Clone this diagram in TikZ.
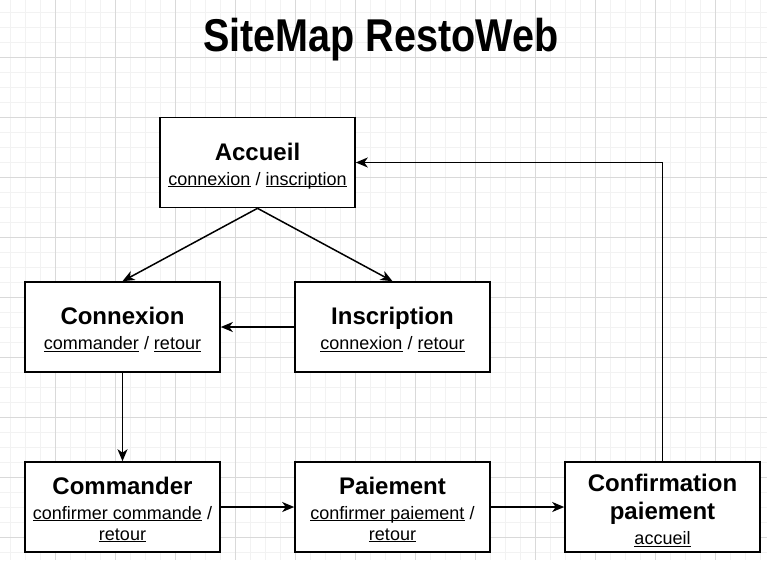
\documentclass[tikz,border=0pt]{standalone}
\usepackage{fontspec}
\setmainfont{Liberation Sans}
\usetikzlibrary{arrows.meta}
\newcommand\lnk[1]{\underline{\smash{#1}}}
\newcommand\hd[1]{{\fontsize{24}{29}\selectfont\bfseries #1}}
\newcommand\hdtop[2][22pt]{\rule{0pt}{#1}\hd{#2}}
\tikzset{
  minorgrid/.style={draw=black!5, line width=1pt},
  majorgrid/.style={draw=black!15, line width=1pt},
  page/.style={draw=black, line width=1.6pt, fill=white, minimum width=195pt, minimum height=90pt, inner sep=0pt, align=center, font=\fontsize{18}{21}\selectfont},
  arr/.style={draw=black, line width=1.5pt, -{Stealth[length=12pt, width=10pt, inset=3.5pt]}},
  titlestyle/.style={inner sep=0pt, anchor=base}
}
\begin{document}
\begin{tikzpicture}[x=1pt,y=-1pt]
\useasboundingbox (0,0) rectangle (767,560);
\fill[white] (0,0) rectangle (767,560);
\foreach \x in {10,25,...,760} \draw[minorgrid] (\x,0) -- (\x,560);
\foreach \y in {12,27,...,557} \draw[minorgrid] (0,\y) -- (767,\y);
\foreach \x in {55,115,...,715} \draw[majorgrid] (\x,0) -- (\x,560);
\foreach \y in {57,117,...,537} \draw[majorgrid] (0,\y) -- (767,\y);

\node[titlestyle] (title) at (381,51) {\scalebox{0.86}[1]{\fontsize{46}{50}\selectfont\bfseries SiteMap RestoWeb}};

\node[page] (accueil) at (257.5,162.5) {\hdtop{Accueil}\\[4pt] \lnk{connexion} / \lnk{inscription}};
\node[page] (connexion) at (122.5,327) {\hdtop{Connexion}\\[4pt] \lnk{commander} / \lnk{retour}};
\node[page] (inscription) at (392.5,327) {\hdtop{Inscription}\\[4pt] \lnk{connexion} / \lnk{retour}};
\node[page] (commander) at (122.5,507) {\hdtop{Commander}\\[4pt] \lnk{confirmer commande} /\\ \lnk{retour}};
\node[page] (paiement) at (392.5,507) {\hdtop{Paiement}\\[4pt] \lnk{confirmer paiement} /\\ \lnk{retour}};
\node[page] (confirm) at (662.5,507) {\hdtop[24pt]{Confirmation}\\[7pt] \hd{paiement}\\[4pt] \lnk{accueil}};

\draw[arr] (accueil.south) -- (connexion.north);
\draw[arr] (accueil.south) -- (inscription.north);
\draw[arr] (inscription.west) -- (connexion.east);
\draw[arr] (connexion.south) -- (commander.north);
\draw[arr] (commander.east) -- (paiement.west);
\draw[arr] (paiement.east) -- (confirm.west);
\draw[arr] (confirm.north) |- (accueil.east);
\end{tikzpicture}
\end{document}
